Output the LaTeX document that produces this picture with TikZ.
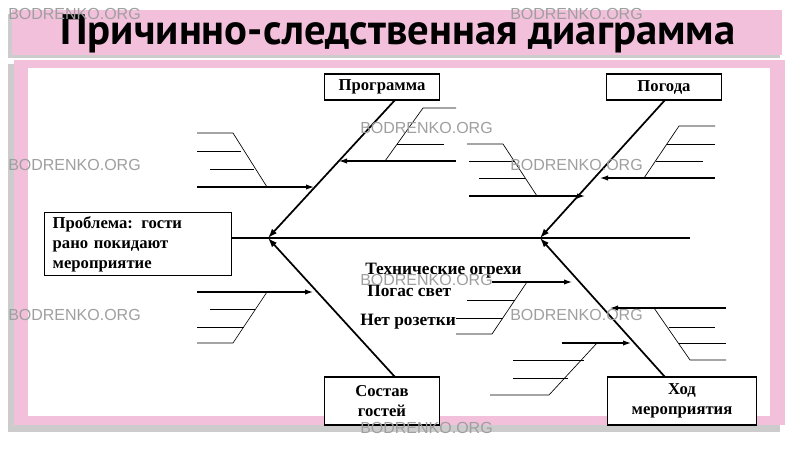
\documentclass[tikz,border=0pt]{standalone}
\usepackage{fontspec}
\setmainfont{Liberation Serif}
\newfontfamily\titlefont{PT Sans}
\newfontfamily\wmfont{Liberation Sans}
\usetikzlibrary{arrows.meta}
\definecolor{pinkc}{RGB}{242,192,218}
\begin{document}
\begin{tikzpicture}[x=0.75pt,y=-0.75pt,
  box/.style={draw,thick,fill=white,inner sep=0pt,font=\bfseries\fontsize{12.5}{15}\selectfont,align=center},
  bone/.style={line width=1.3pt},
  sub/.style={line width=0.5pt},
  arr/.style={line width=0.9pt,-{Latex[length=6pt,width=4pt]}},
  lbl/.style={font=\bfseries\fontsize{13}{15}\selectfont,anchor=west,inner sep=0pt},
  wm/.style={text=gray!75,font=\wmfont\fontsize{12}{14}\selectfont,anchor=west,inner sep=0pt}]
\useasboundingbox (0,0) rectangle (802,451);
\fill[white] (0,0) rectangle (802,451);
% title bar
\fill[gray!40] (8,14) rectangle (780,58);
\fill[pinkc] (12,10) rectangle (782,55);
\node[font=\titlefont\bfseries\fontsize{32}{36}\selectfont] (title) at (398,34) {Причинно-следственная диаграмма};
% panel
\fill[gray!40] (8,64) rectangle (780,432);
\fill[pinkc] (14,60) rectangle (785,425);
\fill[white] (28,68) rectangle (770,416);
% boxes
\node[box,minimum width=86pt,minimum height=19.5pt] (prog) at (382,87) {Программа};
\node[box,minimum width=86pt,minimum height=19.5pt] (pog) at (664,87) {Погода};
\node[box,minimum width=140pt,minimum height=47pt,align=left,text width=128pt] (prob) at (138,244) {Проблема: гости\\рано покидают\\мероприятие};
\node[box,minimum width=86pt,minimum height=36pt] (sost) at (382,401) {Состав\\гостей};
\node[box,minimum width=112pt,minimum height=36pt] (hod) at (682,401) {Ход\\мероприятия};
% spine
\coordinate (s1) at (268,238);
\coordinate (s2) at (540,238);
\coordinate (send) at (690,238);
\draw[bone] (prob.east|-s1) -- (send);
\draw[bone,-{Latex[length=7pt,width=5pt]}] (395,100) -- (s1);
\draw[bone,-{Latex[length=7pt,width=5pt]}] (665,100) -- (s2);
\draw[bone,-{Latex[length=7pt,width=5pt]}] (395,377) -- (s1);
\draw[bone,-{Latex[length=7pt,width=5pt]}] (665,377) -- (s2);
% upper-left group
\draw[sub] (197,133)--(233,133)--(267,187);
\draw[sub] (197,151)--(241,151); \draw[sub] (210,169)--(254,169);
\draw[arr] (197,187)--(314,187);
% upper right of bone1
\draw[sub] (456,108)--(423,108)--(385,161);
\draw[sub] (444,144)--(397,144);
\draw[arr] (456,161)--(339,161);
% left of bone2 upper
\draw[sub] (467,144)--(503,144)--(537,196);
\draw[sub] (469,161)--(514,161); \draw[sub] (479,178)--(525,178);
\draw[arr] (469,196)--(585,196);
% right of bone2 upper
\draw[sub] (715,126)--(679,126)--(644,178);
\draw[sub] (715,144)--(667,144); \draw[sub] (703,161)--(656,161);
\draw[arr] (715,178)--(600,178);
% lower-left group
\draw[arr] (197,292)--(313,292);
\draw[sub] (267,292)--(233,343)--(197,343);
\draw[sub] (210,309)--(255,309); \draw[sub] (197,327)--(244,327);
% middle lower group
\draw[arr] (492,282)--(572,282);
\draw[sub] (527,282)--(492,334)--(456,334);
\draw[sub] (467,300)--(515,300); \draw[sub] (456,318)--(503,318);
\node[lbl] (t1) at (365,271) {Технические огрехи};
\node[lbl] (t2) at (367,291) {Погас свет};
\node[lbl] (t3) at (360,322) {Нет розетки};
% right of lower bone2
\draw[arr] (726,308)--(610,308);
\draw[sub] (654,308)--(690,360)--(726,360);
\draw[sub] (669,327)--(715,327); \draw[sub] (679,343)--(726,343);
% below middle
\draw[arr] (562,343)--(631,343);
\draw[sub] (597,343)--(549,395)--(490,395);
\draw[sub] (513,360)--(584,360); \draw[sub] (513,378)--(568,378);
% watermarks
\foreach \i/\x/\y in {1/8/14,2/510/14,3/8/165,4/360/128,5/510/165,6/8/315,7/360/280,8/510/315,9/360/428}
  \node[wm] (wm\i) at (\x,\y) {BODRENKO.ORG};
\end{tikzpicture}
\end{document}
